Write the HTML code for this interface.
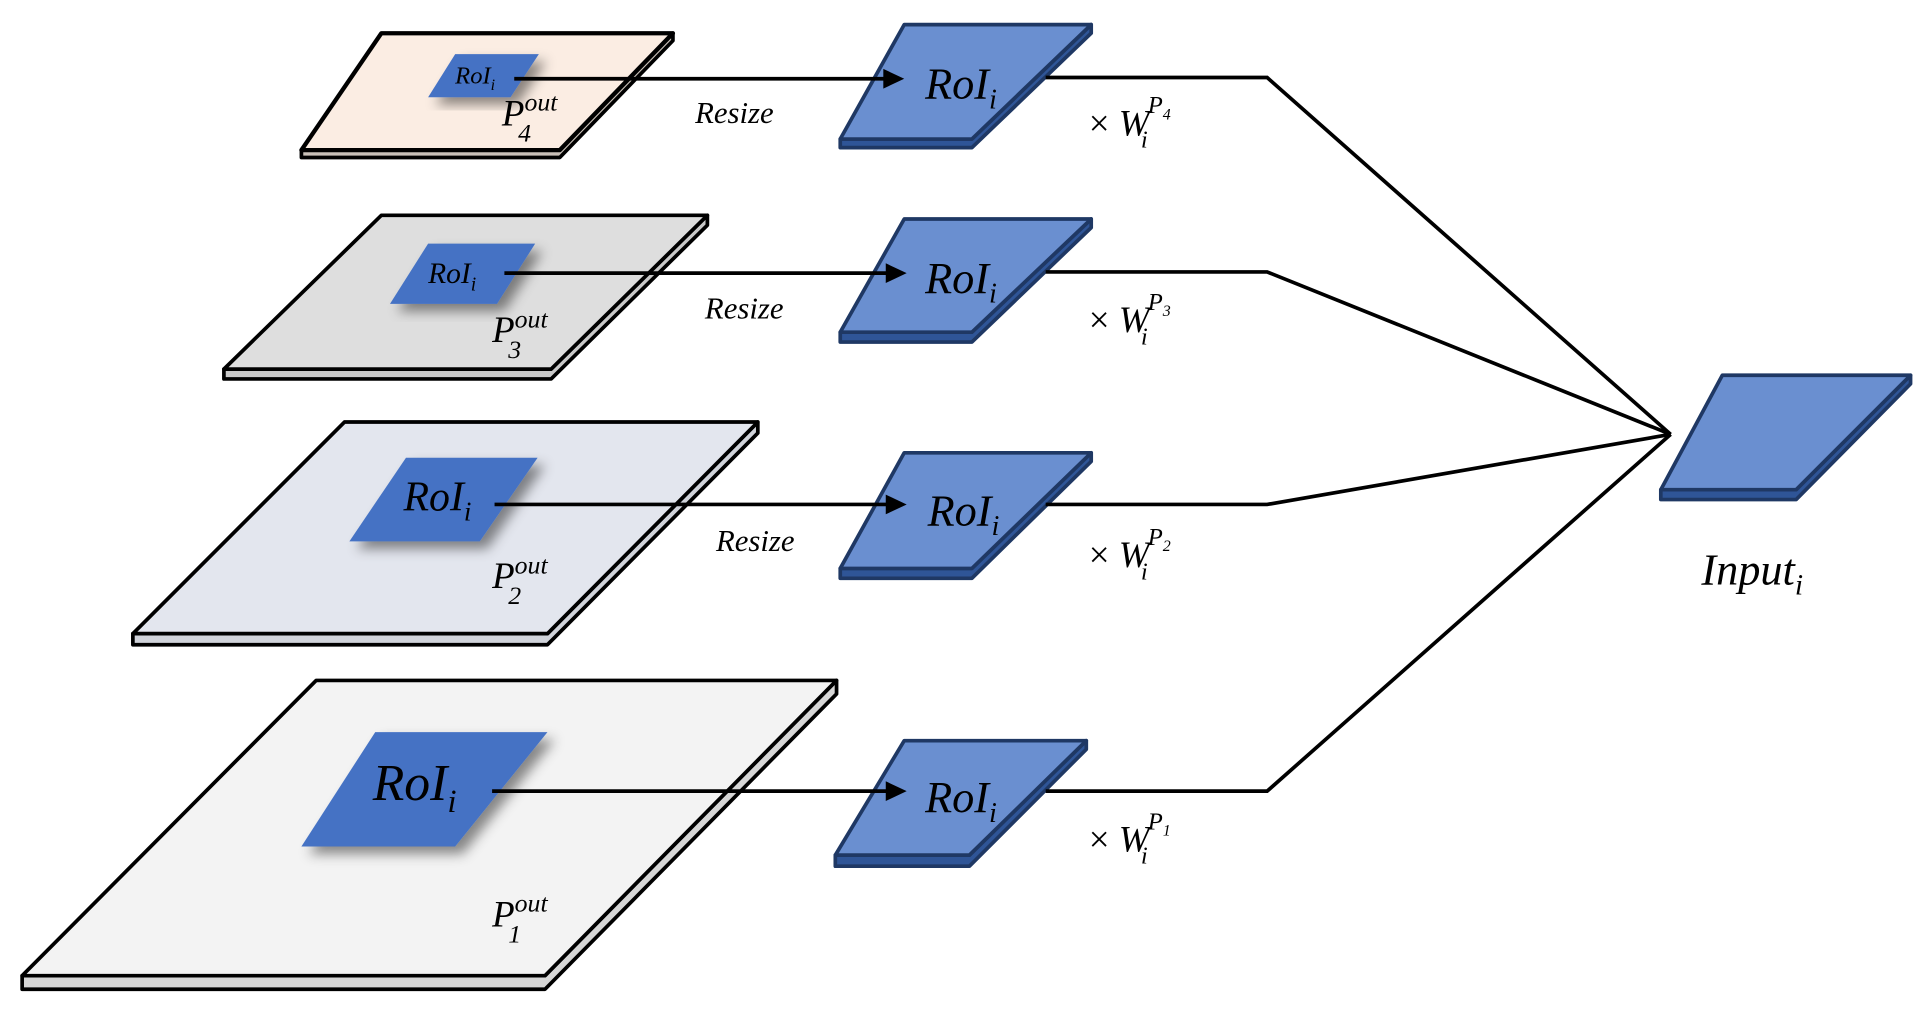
<!DOCTYPE html>
<html><head><meta charset="utf-8"><style>
html,body{margin:0;padding:0;background:#fff;}
svg{display:block;}
text{font-family:"Liberation Serif",serif;font-style:italic;fill:#000;}
</style></head><body>
<svg width="1929" height="1020" viewBox="0 0 1568 829" preserveAspectRatio="none" xmlns="http://www.w3.org/2000/svg">
<defs>
<filter id="sh" x="-30%" y="-30%" width="160%" height="160%"><feDropShadow dx="6" dy="6" stdDeviation="5" flood-color="#000" flood-opacity="0.45"/></filter>
</defs>

<g stroke-linejoin="round">
<polygon points="245,122 455,122 547,27 547,33 455,128 245,128" fill="#c9c0b8" stroke="#000" stroke-width="3"/>
<polygon points="310,27 547,27 455,122 245,122" fill="#fbede3" stroke="#000" stroke-width="3.5"/>
<polygon points="182,300 448,300 575,175 575,183 448,308 182,308" fill="#c8c8c8" stroke="#000" stroke-width="3"/>
<polygon points="310,175 575,175 448,300 182,300" fill="#dedede" stroke="#000" stroke-width="3"/>
<polygon points="108,515 445,515 616,343 616,352 445,524 108,524" fill="#d0d3da" stroke="#000" stroke-width="3"/>
<polygon points="280,343 616,343 445,515 108,515" fill="#e3e6ee" stroke="#000" stroke-width="3"/>
<polygon points="18,793 443,793 680,553 680,564 443,804 18,804" fill="#d6d6d6" stroke="#000" stroke-width="3"/>
<polygon points="257,553 680,553 443,793 18,793" fill="#f3f3f3" stroke="#000" stroke-width="3"/>
</g>

<polygon points="370,44 438,44 415,79 348,79" fill="#4472c4" filter="url(#sh)"/>
<polygon points="348,198 435,198 404,247 317,247" fill="#4472c4" filter="url(#sh)"/>
<polygon points="330,372 437,372 390,440 284,440" fill="#4472c4" filter="url(#sh)"/>
<polygon points="305,595 445,595 370,688 245,688" fill="#4472c4" filter="url(#sh)"/>
<text x="370" y="68" font-size="20">RoI<tspan font-size="13" dy="5">i</tspan></text>
<text x="348" y="230" font-size="24">RoI<tspan font-size="16" dy="6">i</tspan></text>
<text x="328" y="415" font-size="34">RoI<tspan font-size="22" dy="8">i</tspan></text>
<text x="303" y="650" font-size="42">RoI<tspan font-size="27" dy="10">i</tspan></text>

<text x="408" y="102" font-size="30">P<tspan font-size="21" dy="-12">out</tspan><tspan font-size="21" dx="-32" dy="25">4</tspan></text>
<text x="400" y="278" font-size="30">P<tspan font-size="21" dy="-12">out</tspan><tspan font-size="21" dx="-32" dy="25">3</tspan></text>
<text x="400" y="478" font-size="30">P<tspan font-size="21" dy="-12">out</tspan><tspan font-size="21" dx="-32" dy="25">2</tspan></text>
<text x="400" y="753" font-size="30">P<tspan font-size="21" dy="-12">out</tspan><tspan font-size="21" dx="-32" dy="25">1</tspan></text>

<text x="565" y="100" font-size="25">Resize</text>
<text x="573" y="259" font-size="25">Resize</text>
<text x="582" y="448" font-size="25">Resize</text>

<g stroke="#1f3864" stroke-width="3" stroke-linejoin="round">
<polygon points="683,113 790,113 887,20 887,27 790,120 683,120" fill="#2f5597"/>
<polygon points="735,20 887,20 790,113 683,113" fill="#6a8fd0"/>
<polygon points="683,270 790,270 887,178 887,185 790,278 683,278" fill="#2f5597"/>
<polygon points="735,178 887,178 790,270 683,270" fill="#6a8fd0"/>
<polygon points="683,462 790,462 887,368 887,375 790,470 683,470" fill="#2f5597"/>
<polygon points="735,368 887,368 790,462 683,462" fill="#6a8fd0"/>
<polygon points="679,695 788,695 883,602 883,609 788,704 679,704" fill="#2f5597"/>
<polygon points="735,602 883,602 788,695 679,695" fill="#6a8fd0"/>
<polygon points="1350,398 1460,398 1553,305 1553,312 1460,406 1350,406" fill="#2f5597"/>
<polygon points="1400,305 1553,305 1460,398 1350,398" fill="#6a8fd0"/>
</g>

<g stroke="#000" stroke-width="3" fill="none">
<line x1="418" y1="64" x2="722" y2="64"/>
<line x1="410" y1="222" x2="724" y2="222"/>
<line x1="402" y1="410" x2="724" y2="410"/>
<line x1="400" y1="643" x2="724" y2="643"/>
</g>
<g fill="#000">
<polygon points="718,56 735,64 718,72"/>
<polygon points="720,214 737,222 720,230"/>
<polygon points="720,402 737,410 720,418"/>
<polygon points="720,635 737,643 720,651"/>
</g>

<text x="752" y="80" font-size="36">RoI<tspan font-size="23" dy="8">i</tspan></text>
<text x="752" y="238" font-size="36">RoI<tspan font-size="23" dy="8">i</tspan></text>
<text x="754" y="427" font-size="36">RoI<tspan font-size="23" dy="8">i</tspan></text>
<text x="752" y="660" font-size="36">RoI<tspan font-size="23" dy="8">i</tspan></text>

<g stroke="#000" stroke-width="3" fill="none">
<polyline points="850,63 1030,63 1358,353"/>
<polyline points="850,221 1030,221 1358,353"/>
<polyline points="850,410 1030,410 1358,353"/>
<polyline points="850,643 1030,643 1358,353"/>
</g>

<g font-size="30">
<text x="885" y="110"><tspan font-style="normal">×</tspan> W<tspan font-size="20" dx="-7" dy="10">i</tspan><tspan font-size="20" dx="0" dy="-28">P</tspan><tspan font-size="13" dy="5">4</tspan></text>
<text x="885" y="270"><tspan font-style="normal">×</tspan> W<tspan font-size="20" dx="-7" dy="10">i</tspan><tspan font-size="20" dx="0" dy="-28">P</tspan><tspan font-size="13" dy="5">3</tspan></text>
<text x="885" y="461"><tspan font-style="normal">×</tspan> W<tspan font-size="20" dx="-7" dy="10">i</tspan><tspan font-size="20" dx="0" dy="-28">P</tspan><tspan font-size="13" dy="5">2</tspan></text>
<text x="885" y="692"><tspan font-style="normal">×</tspan> W<tspan font-size="20" dx="-7" dy="10">i</tspan><tspan font-size="20" dx="0" dy="-28">P</tspan><tspan font-size="13" dy="5">1</tspan></text>
</g>
<text x="1383" y="475" font-size="36">Input<tspan font-size="24" dy="8">i</tspan></text>
</svg>
</body></html>
